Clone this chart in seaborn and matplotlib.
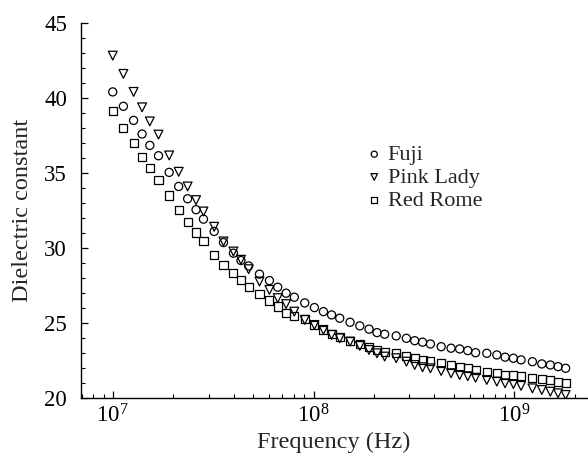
import numpy as np
import pandas as pd
import matplotlib
matplotlib.use("Agg")
import matplotlib.pyplot as plt
import seaborn as sns
from matplotlib.ticker import LogLocator, MultipleLocator

# Frequencies (Hz), shared by all three series
freq = [1.00e7, 1.13e7, 1.27e7, 1.40e7, 1.53e7, 1.69e7, 1.91e7, 2.13e7, 2.36e7, 2.60e7,
        2.83e7, 3.20e7, 3.56e7, 3.99e7, 4.35e7, 4.75e7, 5.38e7, 6.03e7, 6.63e7, 7.30e7,
        8.02e7, 9.04e7, 1.01e8, 1.12e8, 1.23e8, 1.35e8, 1.52e8, 1.70e8, 1.89e8, 2.07e8,
        2.26e8, 2.58e8, 2.90e8, 3.19e8, 3.49e8, 3.82e8, 4.32e8, 4.84e8, 5.34e8, 5.86e8,
        6.41e8, 7.29e8, 8.18e8, 8.99e8, 9.89e8, 1.08e9, 1.23e9, 1.37e9, 1.51e9, 1.65e9,
        1.80e9]

fuji = [40.39, 39.43, 38.49, 37.58, 36.82, 36.13, 35.02, 34.08, 33.26, 32.53,
        31.90, 31.08, 30.34, 29.63, 29.14, 28.78, 28.23, 27.80, 27.36, 26.96,
        26.69, 26.31, 26.00, 25.73, 25.51, 25.29, 25.02, 24.78, 24.56, 24.33,
        24.22, 24.11, 23.95, 23.79, 23.69, 23.57, 23.39, 23.29, 23.24, 23.13,
        22.99, 22.95, 22.84, 22.69, 22.62, 22.51, 22.39, 22.24, 22.17, 22.06,
        21.95]

pink_lady = [42.81, 41.59, 40.39, 39.36, 38.42, 37.54, 36.15, 35.06, 34.08, 33.17,
             32.41, 31.39, 30.41, 29.74, 29.19, 28.56, 27.74, 27.18, 26.63, 26.23,
             25.73, 25.18, 24.84, 24.51, 24.18, 23.95, 23.73, 23.44, 23.17, 22.95,
             22.73, 22.62, 22.39, 22.17, 22.02, 21.95, 21.77, 21.62, 21.50, 21.42,
             21.32, 21.17, 21.06, 20.95, 20.90, 20.77, 20.61, 20.50, 20.39, 20.28,
             20.17]

red_rome = [39.14, 37.98, 36.98, 36.05, 35.31, 34.53, 33.48, 32.53, 31.69, 31.01,
            30.45, 29.52, 28.85, 28.30, 27.85, 27.40, 26.91, 26.47, 26.07, 25.66,
            25.44, 25.21, 24.84, 24.51, 24.22, 24.02, 23.79, 23.57, 23.35, 23.17,
            23.06, 22.95, 22.77, 22.62, 22.51, 22.46, 22.28, 22.17, 22.06, 21.95,
            21.84, 21.72, 21.62, 21.53, 21.47, 21.42, 21.30, 21.24, 21.15, 21.06,
            20.97]

series_names = ["Fuji", "Pink Lady", "Red Rome"]
series_markers = ["o", "v", "s"]
y_ticks = [20, 25, 30, 35, 40, 45]

sns.set_style("ticks")
plt.rcParams["font.family"] = ["Liberation Serif", "DejaVu Serif"]
plt.rcParams["mathtext.fontset"] = "custom"
plt.rcParams["mathtext.rm"] = "Liberation Serif"
plt.rcParams["mathtext.it"] = "Liberation Serif:italic"

fig = plt.figure(figsize=(5.88, 4.66), dpi=100)
ax = fig.add_axes([81 / 588, 1 - 397.5 / 466, 506 / 588, 374.7 / 466])

df = pd.DataFrame({"freq": freq * 3,
                   "value": fuji + pink_lady + red_rome,
                   "variety": sum([[n] * len(freq) for n in series_names], [])})

sizes = {"o": 34, "v": 40, "s": 34}
for name, mk in zip(series_names, series_markers):
    sub = df[df["variety"] == name]
    sns.scatterplot(data=sub, x="freq", y="value", ax=ax, marker=mk,
                    s=sizes[mk], facecolor="none", edgecolor="black",
                    linewidth=0.9, label=name, zorder=3)

ax.set_xscale("log")
ax.set_xlim(6.95e6, 2.3e9)
ax.set_ylim(20, 45)
ax.set_yticks(y_ticks)
ax.yaxis.set_minor_locator(MultipleLocator(1))
ax.xaxis.set_major_locator(LogLocator(base=10))
ax.xaxis.set_minor_locator(LogLocator(base=10, subs=np.arange(2, 10)))

for side in ["top", "right"]:
    ax.spines[side].set_visible(False)
for side in ["left", "bottom"]:
    ax.spines[side].set_linewidth(1.0)
    ax.spines[side].set_color("black")

ax.tick_params(which="major", direction="in", length=5, width=0.9,
               labelsize=16.5, colors="black")
ax.tick_params(axis="y", which="major", pad=10)
ax.tick_params(axis="x", which="major", pad=5)
ax.tick_params(which="minor", direction="in", length=3, width=0.8, colors="black")

ax.set_xlabel("Frequency (Hz)", fontsize=17.5, labelpad=3)
ax.set_ylabel("Dielectric constant", fontsize=17.5, labelpad=8)

leg = ax.legend(loc="upper left", bbox_to_anchor=(0.54, 0.705), frameon=False,
                fontsize=16, handletextpad=0.2, handlelength=0.8,
                labelspacing=0.1, markerscale=0.75, borderpad=0)

fig.savefig("out.png", dpi=100)
